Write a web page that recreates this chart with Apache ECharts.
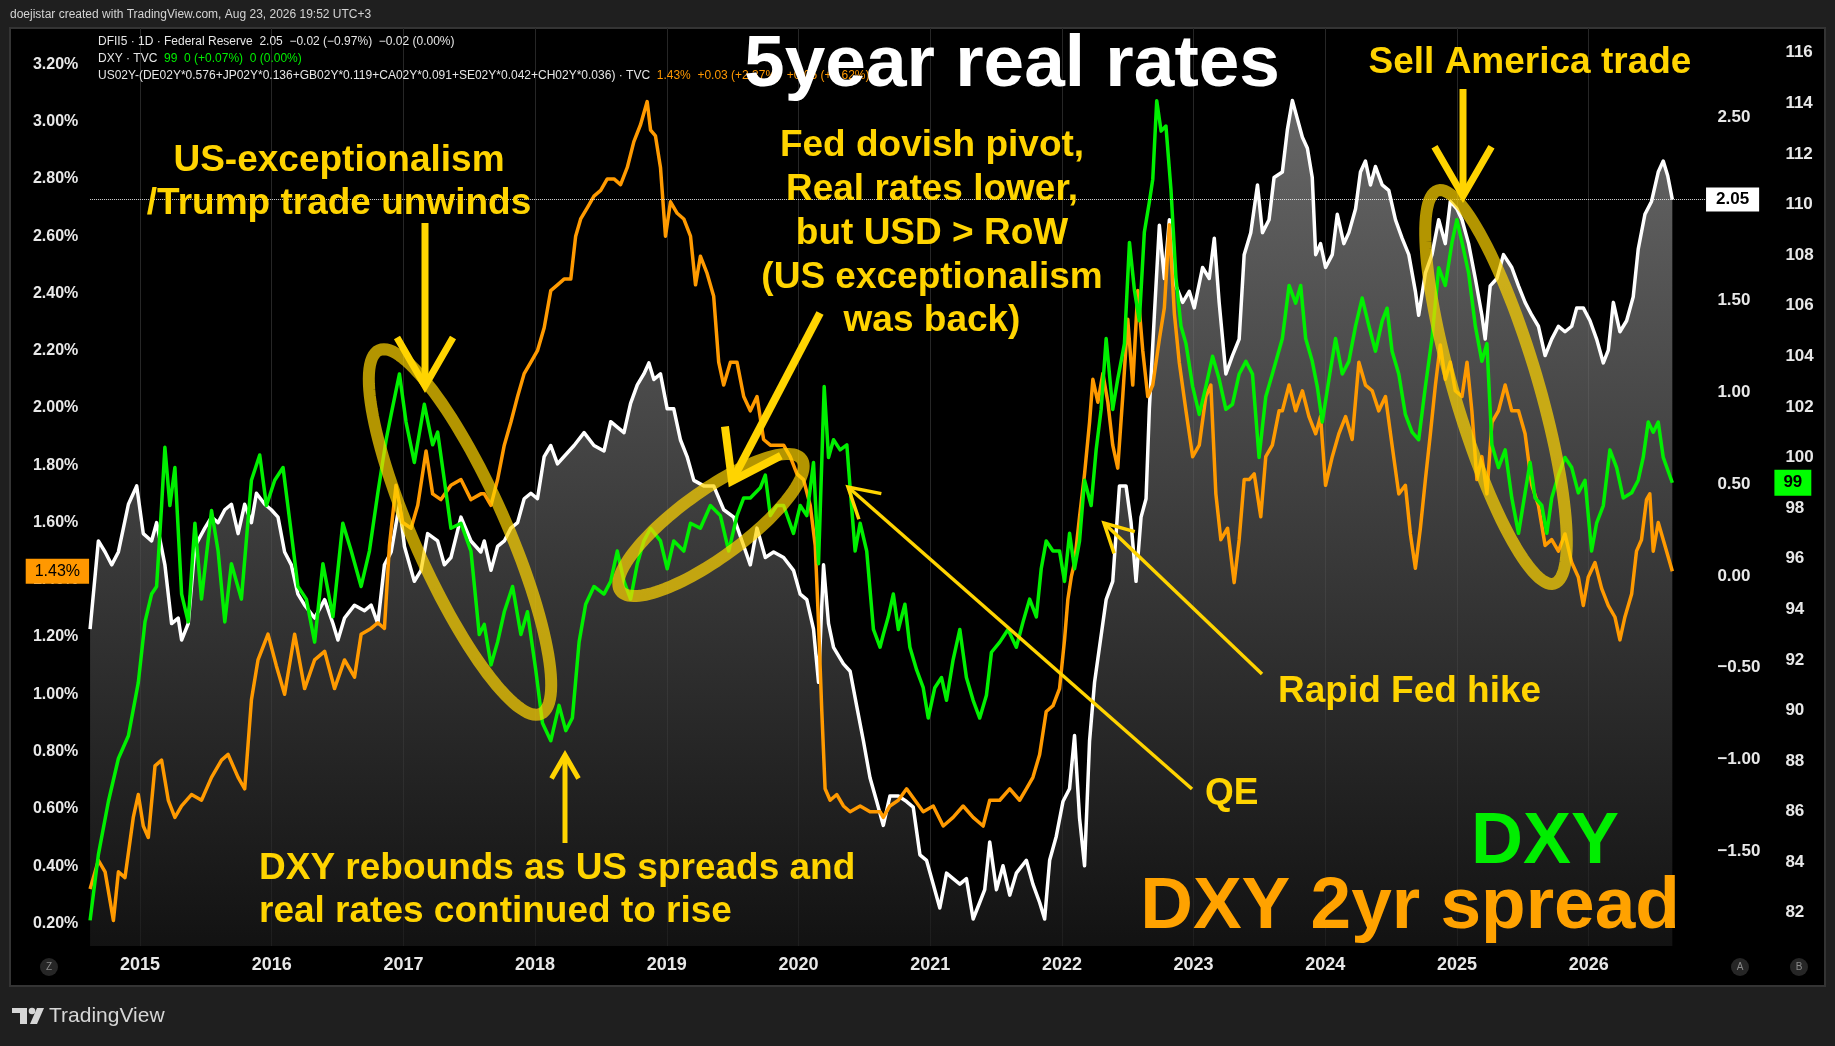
<!DOCTYPE html>
<html><head><meta charset="utf-8">
<script src="https://cdn.jsdelivr.net/npm/echarts@6/dist/echarts.min.js"></script>
<style>html,body{margin:0;padding:0;background:#1f1f1f;}#c{width:1835px;height:1046px;}</style>
</head><body><div id="c"></div>
<script>
// ---- DATA (x = decimal year) ----
const realYears = [2014.621,2014.684,2014.735,2014.785,2014.836,2014.912,2014.975,2015.025,2015.088,2015.126,2015.189,2015.240,2015.290,2015.316,2015.366,2015.417,2015.492,2015.543,2015.593,2015.644,2015.694,2015.745,2015.795,2015.846,2015.884,2015.947,2015.997,2016.048,2016.098,2016.149,2016.199,2016.250,2016.326,2016.402,2016.465,2016.503,2016.553,2016.629,2016.705,2016.755,2016.806,2016.856,2016.907,2016.970,2017.008,2017.083,2017.134,2017.184,2017.260,2017.311,2017.361,2017.437,2017.513,2017.588,
2017.614,2017.665,2017.715,2017.766,2017.816,2017.867,2017.917,2017.968,2018.018,2018.069,2018.119,2018.170,2018.220,2018.296,2018.372,2018.447,2018.523,2018.574,2018.624,2018.675,2018.725,2018.776,2018.826,2018.864,2018.902,2018.952,2019.003,2019.053,2019.104,2019.154,2019.205,2019.281,2019.356,2019.432,2019.508,2019.571,2019.634,2019.685,2019.748,2019.811,2019.887,2019.962,2020.013,2020.063,2020.114,2020.152,2020.190,2020.228,2020.266,2020.341,2020.392,2020.442,2020.493,2020.543,2020.594,
2020.644,2020.694,2020.758,2020.821,2020.871,2020.922,2020.972,2021.023,2021.073,2021.124,2021.174,2021.225,2021.275,2021.326,2021.376,2021.414,2021.452,2021.503,2021.553,2021.604,2021.654,2021.730,2021.780,2021.831,2021.869,2021.907,2021.957,2022.008,2022.058,2022.096,2022.134,2022.172,2022.210,2022.248,2022.285,2022.336,2022.386,2022.437,2022.487,2022.525,2022.563,2022.601,2022.639,2022.664,2022.702,2022.740,2022.778,2022.816,2022.866,2022.917,2022.967,2023.005,2023.068,2023.119,2023.157,2023.194,2023.245,2023.295,2023.346,2023.384,2023.434,2023.485,2023.523,2023.573,2023.611,
2023.674,2023.712,2023.750,2023.788,2023.826,2023.864,2023.901,2023.927,2023.964,2024.002,2024.053,2024.091,2024.141,2024.179,2024.230,2024.267,2024.305,2024.343,2024.381,2024.432,2024.482,2024.533,2024.583,2024.634,2024.684,2024.709,2024.760,2024.810,2024.861,2024.911,2024.949,2024.999,2025.038,2025.088,2025.139,2025.189,2025.214,2025.252,2025.303,2025.353,2025.416,2025.467,2025.517,2025.568,2025.618,2025.669,2025.719,2025.770,2025.820,2025.871,2025.909,2025.959,2026.010,2026.060,2026.111,2026.149,2026.187,2026.237,2026.288,2026.338,2026.376,2026.427,2026.477,2026.528,2026.566,2026.600,2026.635];
const realValues = [-0.29,0.19,0.13,0.06,0.13,0.39,0.49,0.23,0.19,0.29,0.06,-0.26,-0.23,-0.35,-0.26,0.16,0.26,0.32,0.29,0.36,0.39,0.23,0.39,0.29,0.45,0.39,0.36,0.32,0.13,0.06,-0.10,-0.16,-0.23,-0.13,-0.26,-0.35,-0.23,-0.16,-0.19,-0.16,-0.26,0.06,0.13,0.39,0.16,-0.03,0.03,0.23,0.19,0.06,0.10,0.32,0.19,0.13,
0.19,0.03,0.16,0.19,0.26,0.29,0.42,0.45,0.42,0.65,0.71,0.61,0.65,0.71,0.78,0.71,0.68,0.84,0.81,0.78,0.94,1.04,1.10,1.16,1.07,1.10,0.91,0.91,0.74,0.65,0.52,0.49,0.49,0.36,0.32,0.19,0.06,0.26,0.10,0.13,0.10,0.03,-0.10,-0.13,-0.29,-0.58,0.06,-0.26,-0.39,-0.48,-0.52,-0.71,-0.90,-1.10,-1.23,
-1.36,-1.20,-1.20,-1.23,-1.26,-1.52,-1.55,-1.68,-1.81,-1.62,-1.65,-1.68,-1.65,-1.87,-1.78,-1.71,-1.45,-1.71,-1.58,-1.74,-1.62,-1.55,-1.68,-1.78,-1.87,-1.55,-1.42,-1.23,-1.16,-0.87,-1.32,-1.58,-0.90,-0.58,-0.39,-0.13,-0.03,0.49,0.49,0.29,-0.03,0.32,0.42,0.91,1.42,1.91,1.62,1.94,1.58,1.49,1.55,1.46,1.68,1.62,1.84,1.49,1.10,1.20,1.29,1.75,1.87,2.13,1.87,1.94,2.17,
2.20,2.43,2.59,2.49,2.39,2.33,2.17,1.75,1.81,1.68,1.75,1.97,1.81,1.87,2.00,2.20,2.26,2.13,2.23,2.13,2.10,1.94,1.84,1.75,1.55,1.42,1.65,1.75,1.94,1.81,2.04,2.00,1.94,1.81,1.62,1.42,1.29,1.58,1.62,1.75,1.68,1.58,1.49,1.42,1.36,1.20,1.29,1.36,1.33,1.36,1.46,1.46,1.39,1.29,1.16,1.23,1.49,1.33,1.39,1.52,1.78,1.97,2.04,2.20,2.26,2.18,2.05];

const dxyYears = [2014.621,2014.684,2014.760,2014.836,2014.912,2014.987,2015.038,2015.088,2015.126,2015.164,2015.189,2015.227,2015.265,2015.316,2015.366,2015.417,2015.467,2015.543,2015.593,2015.644,2015.694,2015.770,2015.846,2015.909,2015.960,2016.023,2016.086,2016.149,2016.199,2016.263,2016.326,2016.389,2016.465,2016.540,2016.604,2016.679,2016.742,2016.806,2016.869,2016.907,2016.970,2017.020,2017.083,2017.159,2017.222,2017.260,2017.311,2017.361,2017.437,2017.513,2017.576,
2017.614,2017.665,2017.715,2017.766,2017.829,2017.892,2017.942,2018.005,2018.056,2018.119,2018.182,2018.233,2018.283,2018.334,2018.384,2018.447,2018.523,2018.574,2018.624,2018.675,2018.725,2018.776,2018.826,2018.877,2018.952,2019.003,2019.053,2019.129,2019.180,2019.255,2019.331,2019.407,2019.470,2019.533,2019.584,2019.634,2019.710,2019.748,2019.786,2019.836,2019.887,2019.962,2020.013,2020.063,2020.114,2020.152,2020.195,2020.228,2020.266,2020.316,2020.367,2020.392,2020.430,2020.468,2020.518,2020.569,2020.619,
2020.644,2020.682,2020.720,2020.758,2020.808,2020.846,2020.897,2020.947,2020.985,2021.035,2021.086,2021.124,2021.174,2021.225,2021.275,2021.326,2021.376,2021.427,2021.465,2021.528,2021.591,2021.654,2021.705,2021.755,2021.806,2021.843,2021.881,2021.932,2021.982,2022.020,2022.058,2022.096,2022.134,2022.172,2022.222,2022.260,2022.298,2022.336,2022.386,2022.424,2022.475,2022.513,2022.551,2022.588,2022.626,2022.664,2022.690,2022.720,2022.753,2022.790,2022.828,2022.866,2022.904,2022.942,2022.993,2023.043,2023.093,2023.144,2023.194,2023.245,2023.295,2023.346,2023.397,2023.447,2023.497,2023.548,2023.598,
2023.674,2023.725,2023.775,2023.813,2023.851,2023.901,2023.939,2023.977,2024.028,2024.078,2024.129,2024.179,2024.230,2024.280,2024.331,2024.381,2024.432,2024.469,2024.507,2024.558,2024.608,2024.659,2024.709,2024.760,2024.810,2024.861,2024.911,2024.962,2024.999,2025.038,2025.088,2025.139,2025.189,2025.227,2025.265,2025.315,2025.366,2025.416,2025.467,2025.517,2025.555,2025.593,2025.644,2025.682,2025.719,2025.770,2025.820,2025.871,2025.921,2025.972,2026.022,2026.060,2026.111,2026.161,2026.212,2026.262,2026.326,2026.376,2026.414,2026.452,2026.490,2026.528,2026.566,2026.635];
const dxyValues = [81.7,84.3,86.4,88.1,89.0,91.1,93.5,94.6,94.9,98.1,100.4,98.1,99.6,94.6,93.5,97.4,94.4,97.9,96.3,93.5,95.8,94.4,99.1,100.1,98.1,99.1,99.6,97.0,94.9,94.4,92.7,95.8,93.7,97.4,96.3,94.9,96.3,98.6,100.7,101.7,103.3,101.4,99.8,102.1,100.5,101.0,99.1,97.2,97.4,96.3,93.0,
93.4,91.8,92.7,93.9,94.9,93.0,93.9,91.6,89.5,88.8,90.2,89.2,89.7,92.7,94.2,94.9,94.6,95.1,96.3,95.1,94.4,95.8,96.7,97.2,96.7,95.6,96.7,96.3,97.4,97.2,98.1,97.7,96.3,97.7,98.4,98.4,98.8,99.3,97.7,98.1,98.1,97.0,98.1,97.7,99.8,95.8,102.8,100.0,100.7,100.3,100.5,98.8,96.3,97.4,96.3,93.2,92.5,
93.0,93.7,94.6,93.2,94.2,92.5,91.6,90.9,89.7,90.9,91.3,90.4,92.0,93.2,91.3,90.4,89.7,90.6,92.3,92.7,93.2,92.5,93.5,94.4,93.7,95.6,96.7,96.3,96.3,95.1,97.0,95.6,96.7,99.1,98.1,100.3,101.9,104.7,101.9,103.1,104.5,108.5,106.6,105.4,108.9,110.1,111.0,114.1,112.9,113.1,110.6,107.1,105.2,104.5,102.8,101.7,102.8,104.0,103.1,101.9,102.1,103.3,103.8,103.3,100.0,102.4,103.3,
104.7,106.8,106.1,106.8,104.7,103.8,102.8,101.4,103.1,104.7,103.3,103.8,105.2,106.3,105.2,104.2,105.4,105.9,104.2,103.3,101.7,101.0,100.7,102.8,104.7,107.5,106.8,108.5,109.4,108.5,107.3,105.2,103.8,104.5,100.5,99.6,100.3,98.4,97.0,98.6,99.8,98.4,98.1,97.0,98.4,99.3,100.0,99.6,98.6,99.1,96.3,97.4,98.1,100.3,99.6,98.4,98.6,99.1,100.0,101.4,101.0,101.4,100.0,99.0];

const spreadYears = [2014.621,2014.684,2014.735,2014.798,2014.836,2014.886,2014.949,2014.987,2015.025,2015.063,2015.114,2015.164,2015.215,2015.265,2015.316,2015.391,2015.467,2015.543,2015.619,2015.669,2015.745,2015.795,2015.846,2015.896,2015.972,2016.035,2016.098,2016.174,2016.250,2016.326,2016.402,2016.477,2016.553,2016.629,2016.679,2016.755,2016.806,2016.856,2016.894,2016.944,2016.995,2017.058,2017.109,2017.172,2017.222,2017.285,2017.361,2017.437,2017.513,2017.588,
2017.614,2017.665,2017.715,2017.766,2017.816,2017.867,2017.917,2017.968,2018.018,2018.069,2018.119,2018.170,2018.220,2018.271,2018.308,2018.346,2018.397,2018.447,2018.498,2018.548,2018.599,2018.649,2018.700,2018.750,2018.801,2018.826,2018.851,2018.877,2018.914,2018.952,2018.990,2019.028,2019.079,2019.129,2019.180,2019.218,2019.255,2019.306,2019.356,2019.394,2019.432,2019.483,2019.533,2019.584,2019.634,2019.685,2019.735,2019.786,2019.836,2019.887,2019.937,2019.988,2020.038,2020.089,2020.127,2020.152,2020.177,2020.202,2020.240,2020.291,2020.341,2020.392,2020.468,2020.543,2020.619,
2020.644,2020.694,2020.758,2020.821,2020.884,2020.947,2021.023,2021.099,2021.174,2021.250,2021.326,2021.402,2021.452,2021.528,2021.604,2021.679,2021.730,2021.780,2021.831,2021.881,2021.932,2021.982,2022.020,2022.045,2022.071,2022.096,2022.134,2022.172,2022.210,2022.235,2022.273,2022.311,2022.349,2022.386,2022.424,2022.462,2022.500,2022.538,2022.576,2022.614,2022.652,2022.690,2022.740,2022.778,2022.816,2022.854,2022.891,2022.942,2022.993,2023.043,2023.093,2023.131,2023.169,2023.207,2023.258,2023.308,2023.346,2023.384,2023.422,2023.460,2023.510,2023.548,2023.598,2023.649,
2023.674,2023.725,2023.775,2023.826,2023.876,2023.927,2023.964,2024.002,2024.053,2024.103,2024.154,2024.204,2024.255,2024.305,2024.356,2024.406,2024.457,2024.507,2024.558,2024.608,2024.646,2024.684,2024.722,2024.760,2024.798,2024.836,2024.873,2024.911,2024.949,2024.987,2025.038,2025.076,2025.113,2025.151,2025.189,2025.227,2025.265,2025.315,2025.366,2025.416,2025.467,2025.517,2025.568,2025.618,2025.669,2025.719,2025.770,2025.820,2025.871,2025.921,2025.959,2025.997,2026.048,2026.098,2026.149,2026.199,2026.237,2026.275,2026.326,2026.363,2026.401,2026.439,2026.464,2026.490,2026.528,2026.566,2026.635];
const spreadValues = [0.32,0.42,0.38,0.21,0.38,0.36,0.57,0.65,0.54,0.50,0.75,0.77,0.63,0.57,0.61,0.65,0.63,0.71,0.77,0.79,0.71,0.67,0.98,1.12,1.21,1.10,1.00,1.21,1.02,1.12,1.15,1.02,1.12,1.06,1.21,1.23,1.25,1.23,1.52,1.73,1.60,1.58,1.66,1.85,1.70,1.68,1.73,1.75,1.68,1.70,
1.70,1.66,1.75,1.87,1.95,2.04,2.12,2.16,2.20,2.28,2.41,2.43,2.45,2.45,2.60,2.66,2.70,2.74,2.76,2.80,2.80,2.78,2.84,2.93,2.99,3.03,3.07,2.97,2.95,2.84,2.60,2.72,2.68,2.66,2.60,2.43,2.53,2.47,2.39,2.16,2.08,2.16,2.16,2.04,1.99,2.04,1.89,1.87,1.87,1.87,1.83,1.77,1.75,1.66,1.52,1.25,0.94,0.67,0.63,0.65,0.61,0.59,0.61,0.59,0.59,
0.57,0.61,0.63,0.67,0.63,0.59,0.61,0.54,0.57,0.61,0.57,0.54,0.63,0.63,0.67,0.63,0.67,0.71,0.79,0.94,0.96,1.02,1.19,1.33,1.41,1.46,1.62,1.77,1.95,2.10,2.02,2.12,2.02,1.87,1.79,2.04,2.31,2.08,2.41,2.20,2.04,2.08,2.24,2.35,2.64,2.33,2.16,1.99,1.83,1.87,2.04,2.08,1.70,1.54,1.58,1.39,1.54,1.75,1.75,1.77,1.62,1.83,1.87,1.99,
1.99,2.08,1.99,2.06,1.97,1.91,1.97,1.73,1.83,1.91,1.97,1.89,2.16,2.08,2.06,1.99,2.04,1.87,1.70,1.73,1.56,1.44,1.58,1.75,1.91,2.08,2.22,2.10,2.16,2.06,2.04,2.16,1.99,1.75,1.83,1.70,1.95,1.99,2.08,1.99,1.99,1.91,1.73,1.66,1.52,1.54,1.50,1.56,1.46,1.41,1.31,1.41,1.46,1.37,1.31,1.27,1.19,1.27,1.35,1.50,1.54,1.68,1.70,1.50,1.60,1.54,1.43];

const yearTicks = [2015,2016,2017,2018,2019,2020,2021,2022,2023,2024,2025,2026];
const lastReal = 2.05, lastDxy = 99, lastSpread = 1.43;

// ---- helpers ----
const pairs = (xs, ys) => xs.map((x, i) => [x, ys[i]]);
const GOLD = '#FFD400';
const SANS = '"Liberation Sans", Arial, sans-serif';

function arrowEls(tail, tip, headLen, headDeg, width) {
  const a = Math.atan2(tail[1] - tip[1], tail[0] - tip[0]);
  const h = headDeg * Math.PI / 180;
  const w1 = [tip[0] + headLen * Math.cos(a + h), tip[1] + headLen * Math.sin(a + h)];
  const w2 = [tip[0] + headLen * Math.cos(a - h), tip[1] + headLen * Math.sin(a - h)];
  return [
    {type: 'polyline', z: 110, silent: true, shape: {points: [tail, tip]}, style: {stroke: GOLD, lineWidth: width, fill: null, lineCap: 'butt'}},
    {type: 'polyline', z: 110, silent: true, shape: {points: [w1, tip, w2]}, style: {stroke: GOLD, lineWidth: width, fill: null, lineJoin: 'miter', lineCap: 'butt'}}
  ];
}
function ellipseEl(cx, cy, a, b, deg) {
  const r = -deg * Math.PI / 180, pts = [];
  for (let i = 0; i < 120; i++) {
    const t = i / 120 * Math.PI * 2;
    const ex = a * Math.cos(t), ey = b * Math.sin(t);
    pts.push([cx + ex * Math.cos(r) - ey * Math.sin(r), cy + ex * Math.sin(r) + ey * Math.cos(r)]);
  }
  return {type: 'polygon', z: 105, silent: true, shape: {points: pts}, style: {fill: null, stroke: 'rgba(255,212,0,0.7)', lineWidth: 12}};
}
function txt(text, x, y, size, color, align) {
  return {type: 'text', z: 120, silent: true, x: x, y: y + 3,
    style: {text: text, fill: color, font: 'bold ' + size + 'px ' + SANS, textAlign: align || 'center', textVerticalAlign: 'middle', verticalAlign: 'middle'}};
}
function badge(label, x, y) {
  return [
    {type: 'circle', z: 50, silent: true, shape: {cx: x, cy: y, r: 9}, style: {fill: '#262626'}},
    {type: 'text', z: 51, silent: true, x: x, y: y, style: {text: label, fill: '#8a8a8a', font: '10px ' + SANS, textAlign: 'center', textVerticalAlign: 'middle', verticalAlign: 'middle'}}
  ];
}

const graphics = [
  {type: 'rect', z: -100, silent: true, shape: {x: 10, y: 28, width: 1815, height: 958}, style: {fill: '#000', stroke: '#343434', lineWidth: 2}},
  {type: 'text', z: 10, silent: true, x: 10, y: 15, style: {text: 'doejistar created with TradingView.com, Aug 23, 2026 19:52 UTC+3', fill: '#d4d4d4', font: '12px ' + SANS, textVerticalAlign: 'middle', verticalAlign: 'middle'}},
  {type: 'text', z: 10, silent: true, x: 98, y: 42, style: {text: 'DFII5 · 1D · Federal Reserve  2.05  −0.02 (−0.97%)  −0.02 (0.00%)', fill: '#e6e6e6', font: '12px ' + SANS, textVerticalAlign: 'middle', verticalAlign: 'middle'}},
  {type: 'text', z: 10, silent: true, x: 98, y: 59, style: {text: '{w|DXY · TVC}  {g|99  0 (+0.07%)  0 (0.00%)}', font: '12px ' + SANS, textVerticalAlign: 'middle', verticalAlign: 'middle',
    rich: {w: {fill: '#e6e6e6', fontSize: 12, fontFamily: SANS}, g: {fill: '#00ee00', fontSize: 12, fontFamily: SANS}}}},
  {type: 'text', z: 10, silent: true, x: 98, y: 76, style: {text: '{w|US02Y-(DE02Y*0.576+JP02Y*0.136+GB02Y*0.119+CA02Y*0.091+SE02Y*0.042+CH02Y*0.036) · TVC}  {o|1.43%  +0.03 (+2.37%)  +0.05 (+3.62%)}', font: '12px ' + SANS, textVerticalAlign: 'middle', verticalAlign: 'middle',
    rich: {w: {fill: '#e6e6e6', fontSize: 12, fontFamily: SANS}, o: {fill: '#ff9800', fontSize: 12, fontFamily: SANS}}}},
  // ellipses
  ellipseEl(460, 532, 199, 46, -66),
  ellipseEl(711, 525, 112, 33, 36),
  ellipseEl(1496, 387, 205, 42, -73.5),
  // arrows
  ...arrowEls([425, 223], [425, 386], 56, 30, 7),
  ...arrowEls([565, 843], [565, 755], 27, 30, 5),
  ...arrowEls([820, 313], [732, 481], 55, 35, 8),
  ...arrowEls([1262, 674], [1104, 523], 32, 28, 3.5),
  ...arrowEls([1192, 789], [848, 487], 34, 30, 3.5),
  ...arrowEls([1463, 89], [1463, 196], 57, 30, 7),
  // annotation texts
  txt('US-exceptionalism', 339, 158, 37, GOLD),
  txt('/Trump trade unwinds', 339, 201, 37, GOLD),
  txt('Fed dovish pivot,', 932, 143, 37, GOLD),
  txt('Real rates lower,', 932, 187, 37, GOLD),
  txt('but USD > RoW', 932, 231, 37, GOLD),
  txt('(US exceptionalism', 932, 275, 37, GOLD),
  txt('was back)', 932, 318, 37, GOLD),
  txt('DXY rebounds as US spreads and', 259, 866, 37, GOLD, 'left'),
  txt('real rates continued to rise', 259, 909, 37, GOLD, 'left'),
  txt('Rapid Fed hike', 1278, 689, 37, GOLD, 'left'),
  txt('QE', 1205, 791, 37, GOLD, 'left'),
  txt('Sell America trade', 1530, 60, 37, GOLD),
  txt('5year real rates', 1012, 63, 73, '#ffffff'),
  txt('DXY', 1545, 840, 72, '#00ee00'),
  txt('DXY 2yr spread', 1410, 905, 73, '#ffa200'),
  // bottom badges and logo
  ...badge('Z', 49, 967), ...badge('A', 1740, 967), ...badge('B', 1799, 967),
  {type: 'rect', z: 10, silent: true, shape: {x: 12, y: 1008, width: 15, height: 5}, style: {fill: '#d6d6d6'}},
  {type: 'rect', z: 10, silent: true, shape: {x: 20, y: 1008, width: 7, height: 16}, style: {fill: '#d6d6d6'}},
  {type: 'circle', z: 10, silent: true, shape: {cx: 32, cy: 1011, r: 3.3}, style: {fill: '#d6d6d6'}},
  {type: 'polygon', z: 10, silent: true, shape: {points: [[37, 1008], [44, 1008], [37, 1024], [30, 1024]]}, style: {fill: '#d6d6d6'}},
  {type: 'text', z: 10, silent: true, x: 49, y: 1016, style: {text: 'TradingView', fill: '#d6d6d6', font: '21px ' + SANS, textVerticalAlign: 'middle', verticalAlign: 'middle'}}
];

const chart = echarts.init(document.getElementById('c'), null, {renderer: 'canvas', width: 1835, height: 1046});
const labelBase = {color: '#e8e8e8', fontWeight: 'bold', fontFamily: SANS};
chart.setOption({
  animation: false,
  backgroundColor: '#1f1f1f',
  grid: {left: 8.3, right: 114.6, top: 28, bottom: 100, containLabel: false, outerBoundsMode: 'none'},
  xAxis: {
    type: 'value', min: 2014, max: 2027, interval: 1,
    axisLine: {show: false}, axisTick: {show: false},
    axisLabel: {...labelBase, fontSize: 18, margin: 10, showMinLabel: false, showMaxLabel: false,
      formatter: v => yearTicks.indexOf(v) >= 0 ? String(v) : ''},
    splitLine: {show: true, showMinLine: false, showMaxLine: false, lineStyle: {color: '#262626', width: 1}}
  },
  yAxis: [
    {type: 'value', position: 'left', min: 0.121, max: 3.327, splitNumber: 16, offset: -72,
      axisLine: {show: false}, axisTick: {show: false}, splitLine: {show: false},
      axisLabel: {...labelBase, fontSize: 16, margin: 2, showMinLabel: false, showMaxLabel: false,
        formatter: v => v.toFixed(2) + '%'}},
    {type: 'value', position: 'right', min: -2.017, max: 2.985, splitNumber: 10, offset: -10,
      axisLine: {show: false}, axisTick: {show: false}, splitLine: {show: false},
      axisLabel: {...labelBase, fontSize: 17, margin: 7, showMinLabel: false, showMaxLabel: false,
        formatter: v => (Math.abs(v - 2) < 1e-6 || v < -1.75) ? '' : (v < -1e-9 ? '−' : '') + Math.abs(v).toFixed(2)}},
    {type: 'value', position: 'right', min: 80.688, max: 116.976, splitNumber: 18, offset: 50,
      axisLine: {show: false}, axisTick: {show: false}, splitLine: {show: false},
      axisLabel: {...labelBase, fontSize: 17, margin: 15, showMinLabel: false, showMaxLabel: false,
        formatter: v => Math.round(v) + ''}}
  ],
  series: [
    {name: 'DFII5', type: 'line', yAxisIndex: 1, z: 2, data: pairs(realYears, realValues), showSymbol: false, symbol: 'none',
      lineStyle: {color: '#ffffff', width: 3.5, join: 'round'},
      areaStyle: {origin: 'start', color: new echarts.graphic.LinearGradient(0, 0, 0, 1, [{offset: 0, color: '#929292'}, {offset: 1, color: '#1a1a1a'}])},
      emphasis: {disabled: true},
      markLine: {silent: true, symbol: ['none', 'none'], animation: false,
        lineStyle: {type: 'dotted', color: 'rgba(255,255,255,0.85)', width: 1},
        label: {show: true, position: 'end', distance: 0, formatter: String(lastReal), color: '#000', backgroundColor: '#ffffff',
          fontFamily: SANS, fontWeight: 'bold', fontSize: 17, padding: [4, 10, 3, 10]},
        data: [[{coord: [realYears[0], lastReal]}, {coord: [2026.891, lastReal]}]]}},
    {name: 'Spread', type: 'line', yAxisIndex: 0, z: 3, data: pairs(spreadYears, spreadValues), showSymbol: false, symbol: 'none',
      lineStyle: {color: '#ff9a00', width: 3.5, join: 'round'}, emphasis: {disabled: true},
      markLine: {silent: true, symbol: ['none', 'none'], animation: false,
        lineStyle: {color: 'rgba(0,0,0,0)', width: 0},
        label: {show: true, position: 'start', distance: 1, formatter: lastSpread.toFixed(2) + '%', color: '#000', backgroundColor: '#ff9800',
          fontFamily: SANS, fontSize: 16, padding: [5, 9, 4, 9]},
        data: [[{coord: [spreadYears[0], lastSpread]}, {coord: [spreadYears[0] + 0.01, lastSpread]}]]}},
    {name: 'DXY', type: 'line', yAxisIndex: 2, z: 4, data: pairs(dxyYears, dxyValues), showSymbol: false, symbol: 'none',
      lineStyle: {color: '#00f000', width: 3.5, join: 'round'}, emphasis: {disabled: true},
      markLine: {silent: true, symbol: ['none', 'none'], animation: false,
        lineStyle: {color: 'rgba(0,0,0,0)', width: 0},
        label: {show: true, position: 'end', distance: 54, formatter: String(lastDxy), color: '#000', backgroundColor: '#00ff00',
          fontFamily: SANS, fontWeight: 'bold', fontSize: 17, padding: [5, 9, 4, 9]},
        data: [[{coord: [2026.8, lastDxy]}, {coord: [2027, lastDxy]}]]}}
  ],
  graphic: {elements: graphics}
});
</script>
</body></html>
